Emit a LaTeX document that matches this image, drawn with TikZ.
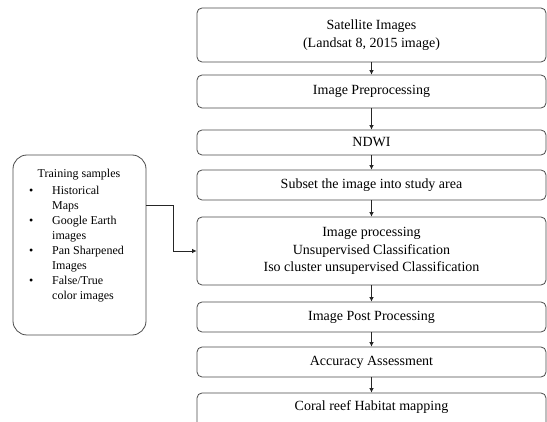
\documentclass[tikz,border=0pt]{standalone}
\usepackage{fontspec}
\setmainfont{Liberation Serif}
\usetikzlibrary{arrows.meta}
\begin{document}
\begin{tikzpicture}[x=1pt,y=-1pt,
  stepbox/.style={draw=black!70, line width=0.8pt, fill=white, rounded corners=5pt,
    minimum width=349pt, align=center, inner sep=0pt,
    font=\fontsize{14}{17.5}\selectfont},
  sidebox/.style={draw=black!70, line width=0.8pt, fill=white, rounded corners=14pt,
    minimum width=133pt, minimum height=180pt, inner sep=0pt},
  arr/.style={-{Latex[length=4.5pt,width=4.5pt]}, line width=0.7pt, draw=black!85}
]
\useasboundingbox (0,0) rectangle (547,422);
\clip (0,0) rectangle (547,422);
\fill[white] (0,0) rectangle (547,422);

\node[stepbox, minimum height=54pt] (sat) at (371.5,35) {Satellite Images\\(Landsat 8, 2015 image)};
\node[stepbox, minimum height=33pt] (pre) at (371.5,91.5) {Image Preprocessing};
\node[stepbox, minimum height=25pt] (ndwi) at (371.5,142.5) {NDWI};
\node[stepbox, minimum height=30pt] (sub) at (371.5,185) {Subset the image into study area};
\node[stepbox, minimum height=68pt] (proc) at (371.5,251) {Image processing\\Unsupervised Classification\\Iso cluster unsupervised Classification};
\node[stepbox, minimum height=30pt] (post) at (371.5,317) {Image Post Processing};
\node[stepbox, minimum height=30pt] (acc) at (371.5,362) {Accuracy Assessment};
\node[stepbox, minimum height=40pt, text depth=0pt] (coral) at (371.5,413) {};
\node[font=\fontsize{14}{17.5}\selectfont, inner sep=0pt] (coraltxt) at (371.5,407) {Coral reef Habitat mapping};

\draw[arr] (sat) -- (pre);
\draw[arr] (pre) -- (ndwi);
\draw[arr] (ndwi) -- (sub);
\draw[arr] (sub) -- (proc);
\draw[arr] (proc) -- (post);
\draw[arr] (post) -- (acc);
\draw[arr] (acc) -- (coral);

\node[sidebox] (train) at (79.5,245) {};
\node[font=\fontsize{12}{15}\selectfont, inner sep=0pt] (ttitle) at (79,175) {Training samples};
\node[font=\fontsize{12}{15}\selectfont, inner sep=0pt, anchor=north west] (tlist) at (29,183.5) {%
\begin{tabular}{@{}p{23pt}@{}l@{}}
\textbullet & Historical\\
 & Maps\\
\textbullet & Google Earth\\
 & images\\
\textbullet & Pan Sharpened\\
 & Images\\
\textbullet & False/True\\
 & color images
\end{tabular}};

\coordinate (ts) at (146,205);
\draw[arr] (ts) -- ++(27,0) |- (proc.west);
\end{tikzpicture}
\end{document}
